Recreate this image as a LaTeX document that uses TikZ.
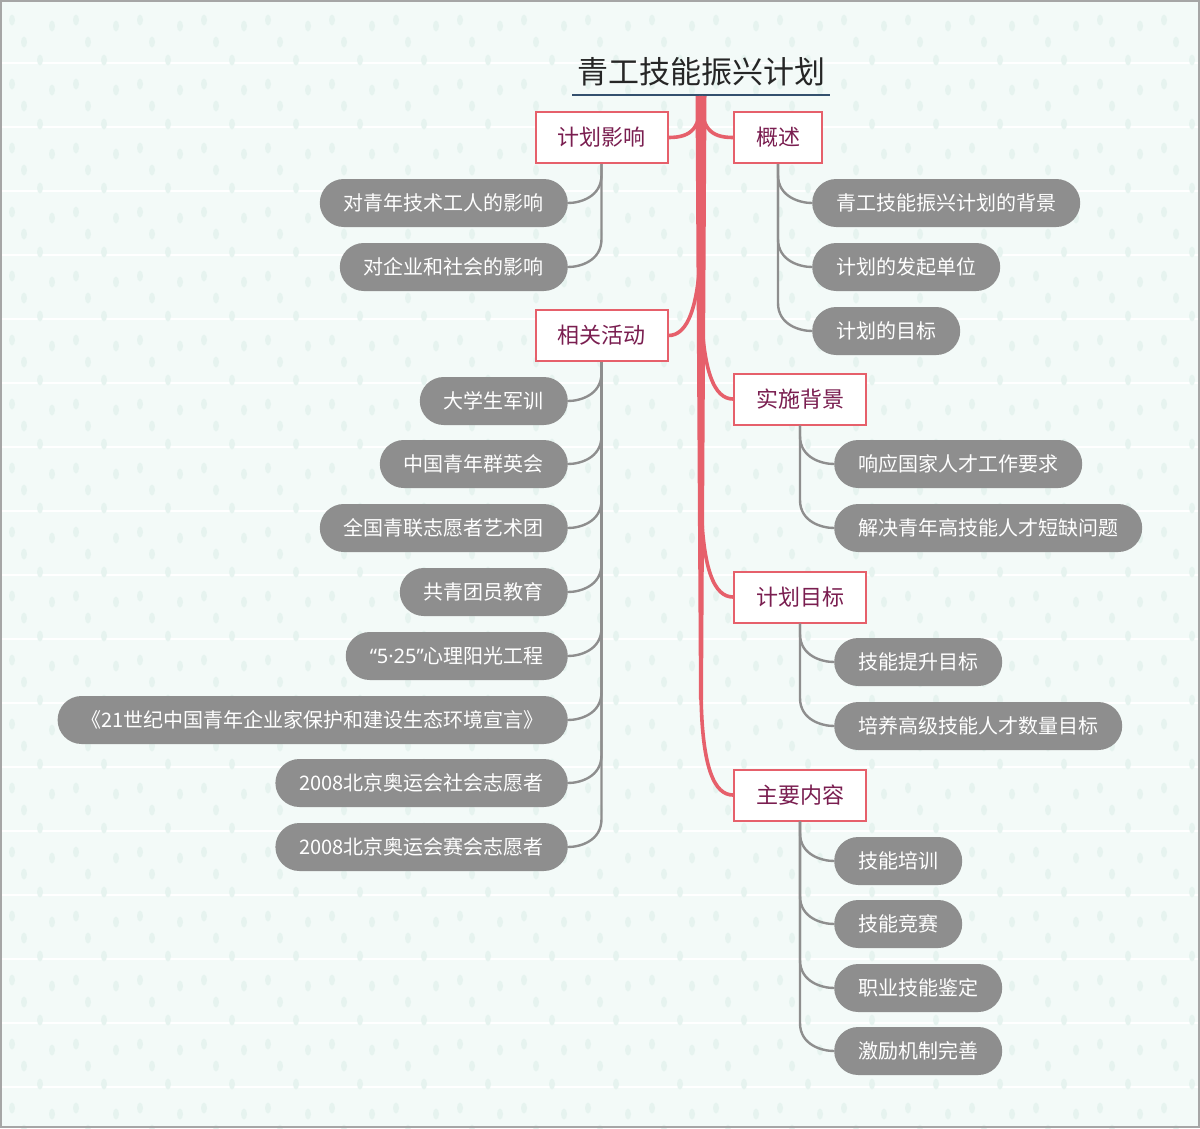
\documentclass[tikz,border=0pt]{standalone}
\usepackage{fontspec}
\usetikzlibrary{calc}
\setmainfont{Noto Sans CJK SC}
\newfontfamily\latinf{Noto Sans}
\definecolor{bgc}{HTML}{F3FAF8}
\definecolor{redc}{HTML}{E6606B}
\definecolor{magc}{HTML}{7A1E50}
\definecolor{grayc}{HTML}{8E8E8E}
\definecolor{navyc}{HTML}{34506E}
\definecolor{dropc}{HTML}{E6F3EF}
\tikzset{
  titlenode/.style={inner sep=0pt, text=black!85, font=\fontsize{31}{31}\selectfont},
  mainbox/.style={draw=redc, line width=2pt, fill=white, text=magc, inner xsep=22pt, inner ysep=0pt, minimum height=51pt, font=\fontsize{22}{22}\selectfont},
  leaf/.style={fill=grayc, text=white, rounded corners=24pt, inner xsep=24pt, inner ysep=0pt, minimum height=48pt, font=\fontsize{20}{20}\selectfont},
  redlink/.style={draw=redc, line width=3.6pt},
  graylink/.style={draw=grayc, line width=2.4pt},
}
\begin{document}
\begin{tikzpicture}[x=1pt,y=-1pt]
\useasboundingbox (0,0) rectangle (1200,1128);
\fill[bgc] (0,0) rectangle (1200,1128);
\foreach \yy in {63,127,...,1128} { \draw[white, line width=1.2pt] (0,\yy) -- (1200,\yy); }
\foreach \yy in {0,64,...,1100} {
  \foreach \xx in {0,64,...,1190} {
    \fill[dropc] (\xx+12,\yy+20) ellipse (3pt and 5.5pt);
    \fill[dropc] (\xx+52,\yy+26) ellipse (3pt and 5.5pt);
    \fill[dropc] (\xx+24,\yy+42) ellipse (3pt and 5.5pt);
    \fill[dropc] (\xx+40,\yy+60) ellipse (3pt and 5.5pt);
  }
}
\draw[gray!70, line width=2pt] (1,1) rectangle (1199,1127);

% title
\node[titlenode] (title) at (701,72) {青工技能振兴计划};
\coordinate (tl) at (572,95);
\coordinate (tr) at (830,95);
\coordinate (root) at (701,96);
\draw[navyc, line width=2pt] (tl) -- (tr);

% main branches
\node[mainbox] (m1) at (601.5,137.5) {计划影响};
\node[mainbox] (m2) at (778,137.5) {概述};
\node[mainbox] (m3) at (601.5,335.5) {相关活动};
\node[mainbox] (m4) at (800,399) {实施背景};
\node[mainbox] (m5) at (800,597) {计划目标};
\node[mainbox] (m6) at (800,795) {主要内容};

% red connectors
\fill[redc] (695.5,96) -- (706.5,96) -- (703,700) -- (699,700) -- cycle;
\draw[redlink] (root) .. controls (701,128) and (692,137.5) .. (m1.east);
\draw[redlink] (root) .. controls (701,128) and (710,137.5) .. (m2.west);
\draw[redlink] (root) -- ($(m3.east -| root)+(0,-110)$) .. controls ($(m3.east -| root)+(0,-25)$) and ($(m3.east)+(18,0)$) .. (m3.east);
\foreach \m in {m4,m5,m6} {
  \draw[redlink] (root) -- ($(\m.west -| root)+(0,-110)$) .. controls ($(\m.west -| root)+(0,-25)$) and ($(\m.west)+(-18,0)$) .. (\m.west);
}

% leaves left: 计划影响
\node[leaf, anchor=east] (a1) at (568,203) {对青年技术工人的影响};
\node[leaf, anchor=east] (a2) at (568,267) {对企业和社会的影响};
% leaves left: 相关活动
\node[leaf, anchor=east] (c1) at (568,401) {大学生军训};
\node[leaf, anchor=east] (c2) at (568,464) {中国青年群英会};
\node[leaf, anchor=east] (c3) at (568,528) {全国青联志愿者艺术团};
\node[leaf, anchor=east] (c4) at (568,592) {共青团员教育};
\node[leaf, anchor=east] (c5) at (568,656) {{\latinf “5·25”}心理阳光工程};
\node[leaf, anchor=east] (c6) at (568,720) {《21世纪中国青年企业家保护和建设生态环境宣言》};
\node[leaf, anchor=east] (c7) at (568,783) {2008北京奥运会社会志愿者};
\node[leaf, anchor=east] (c8) at (568,847) {2008北京奥运会赛会志愿者};
% leaves right: 概述
\node[leaf, anchor=west] (b1) at (812,203) {青工技能振兴计划的背景};
\node[leaf, anchor=west] (b2) at (812,267) {计划的发起单位};
\node[leaf, anchor=west] (b3) at (812,331) {计划的目标};
% 实施背景
\node[leaf, anchor=west] (d1) at (834,464) {响应国家人才工作要求};
\node[leaf, anchor=west] (d2) at (834,528) {解决青年高技能人才短缺问题};
% 计划目标
\node[leaf, anchor=west] (e1) at (834,662) {技能提升目标};
\node[leaf, anchor=west] (e2) at (834,726) {培养高级技能人才数量目标};
% 主要内容
\node[leaf, anchor=west] (f1) at (834,861) {技能培训};
\node[leaf, anchor=west] (f2) at (834,924) {技能竞赛};
\node[leaf, anchor=west] (f3) at (834,988) {职业技能鉴定};
\node[leaf, anchor=west] (f4) at (834,1051) {激励机制完善};

% gray connectors
\foreach \l in {a1,a2} {
  \draw[graylink] (m1.south) -- ($(\l.east -| m1.south)+(0,-28)$) .. controls ($(\l.east -| m1.south)+(0,-6)$) and ($(\l.east)+(12,0)$) .. (\l.east);
}
\foreach \l in {c1,c2,c3,c4,c5,c6,c7,c8} {
  \draw[graylink] (m3.south) -- ($(\l.east -| m3.south)+(0,-28)$) .. controls ($(\l.east -| m3.south)+(0,-6)$) and ($(\l.east)+(12,0)$) .. (\l.east);
}
\foreach \l in {b1,b2,b3} {
  \draw[graylink] (m2.south) -- ($(\l.west -| m2.south)+(0,-28)$) .. controls ($(\l.west -| m2.south)+(0,-6)$) and ($(\l.west)+(-12,0)$) .. (\l.west);
}
\foreach \l in {d1,d2} {
  \draw[graylink] (m4.south) -- ($(\l.west -| m4.south)+(0,-28)$) .. controls ($(\l.west -| m4.south)+(0,-6)$) and ($(\l.west)+(-12,0)$) .. (\l.west);
}
\foreach \l in {e1,e2} {
  \draw[graylink] (m5.south) -- ($(\l.west -| m5.south)+(0,-28)$) .. controls ($(\l.west -| m5.south)+(0,-6)$) and ($(\l.west)+(-12,0)$) .. (\l.west);
}
\foreach \l in {f1,f2,f3,f4} {
  \draw[graylink] (m6.south) -- ($(\l.west -| m6.south)+(0,-28)$) .. controls ($(\l.west -| m6.south)+(0,-6)$) and ($(\l.west)+(-12,0)$) .. (\l.west);
}
\end{tikzpicture}
\end{document}
